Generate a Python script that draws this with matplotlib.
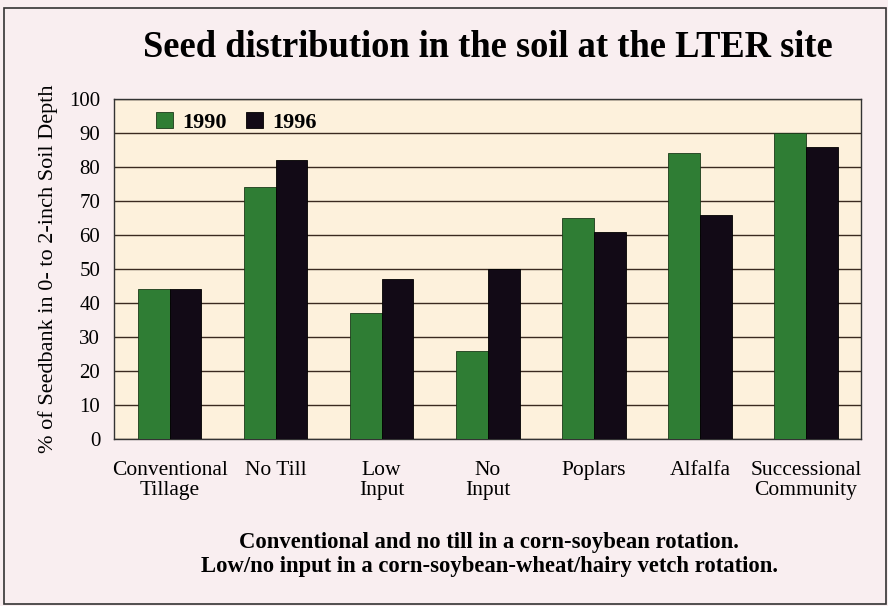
import matplotlib.pyplot as plt
import numpy as np
from matplotlib.patches import Rectangle

categories = ['Conventional\nTillage', 'No Till', 'Low\nInput', 'No\nInput',
              'Poplars', 'Alfalfa', 'Successional\nCommunity']
y1990 = [44, 74, 37, 26, 65, 84, 90]
y1996 = [44, 82, 47, 50, 61, 66, 86]
years = ['1990', '1996']

green = '#2f7d34'
dark = '#120a16'
serif = ['Liberation Serif', 'DejaVu Serif']

fig = plt.figure(figsize=(8.88, 6.06), dpi=100)
fig.patch.set_facecolor('#f9eef0')
ax = fig.add_axes([0.1284, 0.2756, 0.9696 - 0.1284, 0.8366 - 0.2756])
ax.set_facecolor('#fdf1dc')

# frame around the whole figure
fig.patches.append(Rectangle((0.004, 0.004), 0.994, 0.982, transform=fig.transFigure,
                             fill=False, edgecolor='#333333', linewidth=1.2))

x = np.arange(len(categories))
w = 0.3
ax.bar(x - w / 2, y1990, w, color=green, edgecolor='#1a3a1a', linewidth=0.6, zorder=3, label=years[0])
ax.bar(x + w / 2, y1996, w, color=dark, edgecolor='#000000', linewidth=0.6, zorder=3, label=years[1])

ax.set_xlim(-0.524, 6.52)
ax.set_ylim(0, 100)
ax.set_yticks(range(0, 101, 10))
ax.yaxis.grid(True, color='#3a2a20', linewidth=1.0, zorder=1)
ax.set_axisbelow(True)
ax.tick_params(axis='y', length=0, pad=10, labelsize=15)
ax.tick_params(axis='x', length=0, pad=16, labelsize=15.5)
ax.set_xticks(x)
ax.set_xticklabels(categories, fontfamily=serif, linespacing=1.05, va='top')
for lab in ax.get_yticklabels():
    lab.set_fontfamily(serif)
for s in ax.spines.values():
    s.set_color('#333333')
    s.set_linewidth(1.0)

ax.set_ylabel('% of Seedbank in 0- to 2-inch Soil Depth', fontsize=16,
              fontfamily=serif, labelpad=8)

leg = ax.legend(loc='upper left', bbox_to_anchor=(0.03, 1.02), ncol=2, frameon=False,
                handlelength=0.75, handleheight=0.75, columnspacing=0.9, handletextpad=0.4,
                prop={'family': serif, 'weight': 'bold', 'size': 16})

fig.text(0.549, 0.921, 'Seed distribution in the soil at the LTER site',
         ha='center', va='center', fontsize=26.3, fontweight='bold', fontfamily=serif)
fig.text(0.551, 0.085,
         'Conventional and no till in a corn-soybean rotation.\n'
         'Low/no input in a corn-soybean-wheat/hairy vetch rotation.',
         ha='center', va='center', fontsize=16.3, fontweight='bold', fontfamily=serif,
         linespacing=1.2)

fig.savefig('out.png', dpi=100, facecolor=fig.get_facecolor())
